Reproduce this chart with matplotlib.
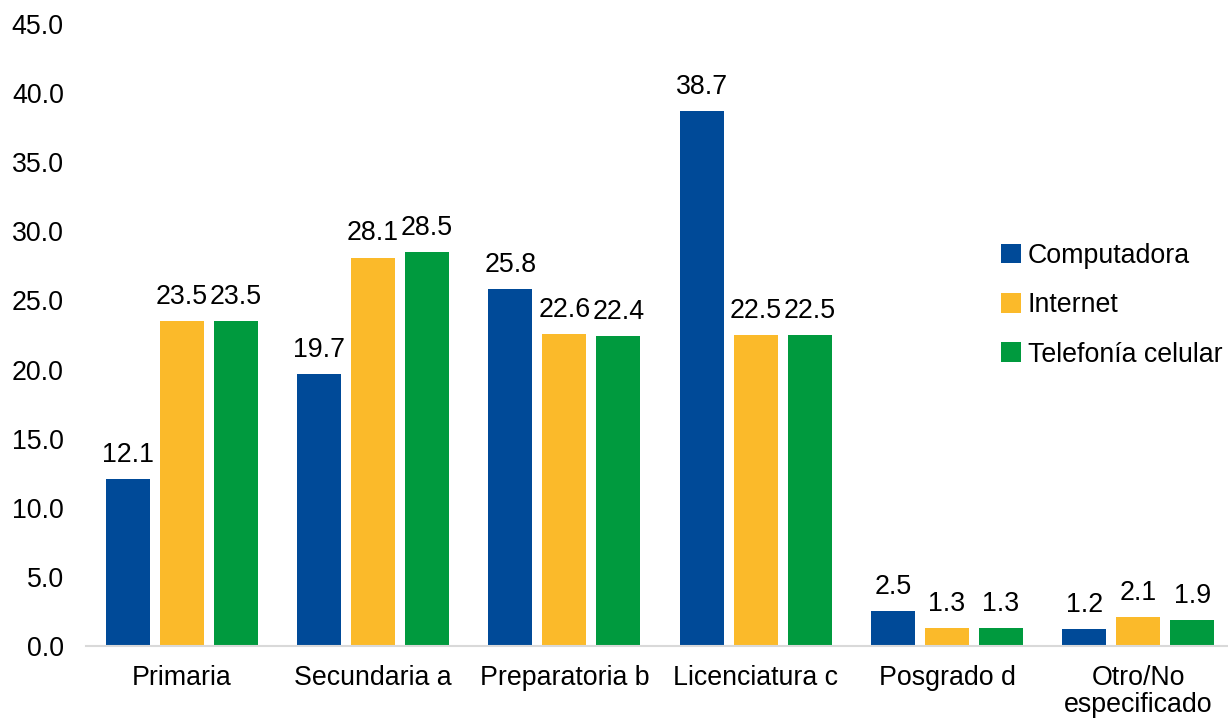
import matplotlib
matplotlib.use("Agg")
import matplotlib.pyplot as plt
import numpy as np
from matplotlib.patches import Patch

categories = ["Primaria", "Secundaria a", "Preparatoria b", "Licenciatura c", "Posgrado d", "Otro/No\nespecificado"]
series_names = ["Computadora", "Internet", "Telefonía celular"]
computadora = [12.1, 19.7, 25.8, 38.7, 2.5, 1.2]
internet = [23.5, 28.1, 22.6, 22.5, 1.3, 2.1]
telefonia = [23.5, 28.5, 22.4, 22.5, 1.3, 1.9]
yticks = [0, 5, 10, 15, 20, 25, 30, 35, 40, 45]

colors = ["#004A98", "#FBBA2A", "#009A3E"]

plt.rcParams['font.family'] = ['Liberation Sans', 'DejaVu Sans']
fs = 19.3

fig = plt.figure(figsize=(12.28, 7.19), dpi=100)
ax = fig.add_axes([86/1228, 73/719, 1148/1228, 622/719])

x = np.arange(len(categories))
w = 0.23
step = 0.282
for i, (vals, c) in enumerate(zip([computadora, internet, telefonia], colors)):
    pos = x + (i - 1) * step
    bars = ax.bar(pos, vals, width=w, color=c, zorder=2)
    for b, v in zip(bars, vals):
        ax.annotate(f"{v:.1f}", (b.get_x() + b.get_width() / 2, v),
                    xytext=(0, 8), textcoords="offset points",
                    ha="center", va="bottom", fontsize=fs, color="#000000")

ax.set_xlim(-0.5, len(categories) - 0.5)
ax.set_ylim(0, 45)
ax.set_yticks(yticks)
ax.set_yticklabels([f"{t:.1f}" for t in yticks], fontsize=fs)
ax.set_xticks(x)
ax.set_xticklabels(categories, fontsize=fs, linespacing=1.05, va="top")
ax.tick_params(axis="both", length=0)
ax.tick_params(axis="x", pad=13.5)
ax.tick_params(axis="y", pad=16)
for s in ["top", "right", "left"]:
    ax.spines[s].set_visible(False)
ax.spines["bottom"].set_color("#D9D9D9")
ax.spines["bottom"].set_linewidth(1.5)

handles = [Patch(facecolor=c, edgecolor="none") for c in colors]
fig.legend(handles, series_names, loc="upper left", bbox_to_anchor=(1001/1228, 1 - 243/719),
           frameon=False, fontsize=fs, handlelength=0.75, handleheight=0.75,
           handletextpad=0.25, labelspacing=0.87, borderaxespad=0, borderpad=0)

fig.savefig("out.png", dpi=100)
